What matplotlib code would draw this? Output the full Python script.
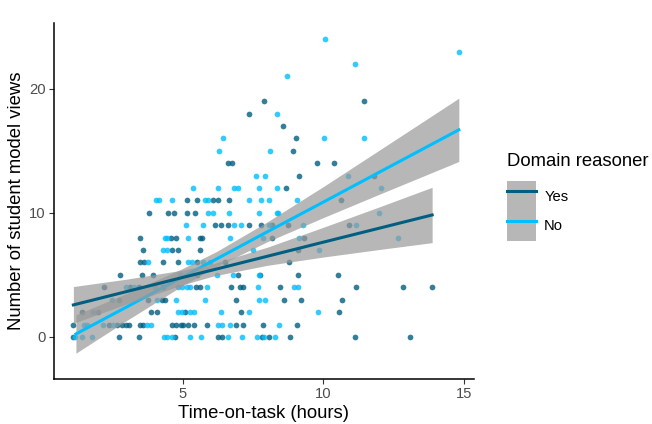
import numpy as np
import matplotlib
matplotlib.use("Agg")
import matplotlib.pyplot as plt
from matplotlib.lines import Line2D
from matplotlib.patches import Patch

plt.rcParams['font.family'] = ['Liberation Sans', 'DejaVu Sans']

# Data: hours on task per number of views, by group
yes_pts = {
    19: [7.89, 11.43],
    18: [7.35],
    17: [8.56],
    16: [9.02],
    15: [8.90],
    14: [6.61, 6.75, 9.76, 10.37],
    13: [9.12, 11.80],
    12: [8.67],
    11: [5.13, 5.49, 6.08, 6.26, 6.64, 10.63],
    10: [3.79, 4.46, 4.68, 5.13, 5.43],
    9: [6.13, 6.34, 6.59, 7.36, 7.79, 8.16, 8.73, 10.92],
    8: [3.47, 4.57, 4.75, 5.60, 5.69, 8.16, 9.31],
    7: [3.59, 4.60, 4.83, 5.60, 9.10],
    6: [3.47, 3.62, 4.28, 4.83, 5.49, 6.5, 8.76],
    5: [2.77, 3.55, 3.95, 5.5, 6.95, 7.74, 9.08, 10.51],
    4: [2.20, 3.11, 3.44, 4.3, 5.45, 5.60, 6.71, 7.03, 7.12, 8.45, 11.16, 12.84, 13.87],
    3: [2.73, 3.77, 4.24, 4.36, 6.88, 8.58, 9.19, 10.67],
    2: [1.40, 1.96, 3.85, 4.06, 5.07, 7.06, 10.56],
    1: [1.10, 2.38, 2.66, 2.82, 2.96, 3.08, 3.47, 3.59, 4.60, 4.74, 4.93, 5.01,
        5.19, 5.39, 5.86, 6.88, 7.15, 7.84, 9.06],
    0: [1.07, 2.73, 3.44, 4.72, 6.26, 6.38, 7.80, 8.05, 8.81, 11.11, 13.07],
}

no_pts = {
    24: [10.04],
    23: [14.82],
    22: [11.13],
    21: [8.70],
    18: [8.36],
    16: [6.41, 10.01, 11.44],
    15: [6.28, 8.10],
    13: [7.59, 7.93, 10.86],
    12: [5.35, 6.26, 6.80, 6.97, 7.70, 8.36, 12.04],
    11: [4.04, 4.16, 4.62, 5.78, 5.90, 7.35, 7.79, 8.06, 9.05],
    10: [5.88, 6.06, 6.64, 7.72, 8.33, 8.37, 11.99],
    9: [5.11, 5.72, 6.83, 7.07, 8.06, 9.28, 11.16],
    8: [4.36, 4.44, 5.17, 6.67, 7.85, 9.12, 12.66],
    7: [4.28, 4.42, 7.48, 9.85],
    6: [3.77, 5.19, 5.33, 5.72, 5.97],
    5: [4.9, 6.2, 6.78, 7.70],
    4: [2.97, 3.26, 4.0, 4.83, 4.98, 5.15, 5.25, 5.84, 7.68, 8.96, 9.08],
    3: [2.46, 4.06, 4.77, 5.78, 7.70, 7.93],
    2: [1.81, 4.83, 4.95, 5.25, 5.39, 6.35, 7.36, 9.79],
    1: [1.48, 1.57, 2.16, 2.52, 3.73, 3.85, 6.26, 6.38, 6.67, 8.41],
    0: [1.16, 1.42, 1.77, 4.32, 4.44, 4.60, 5.25, 5.64, 6.61, 7.09, 7.64, 7.90, 8.28],
}

# Fitted lines with 95% band
fit_x_yes = [1.10, 3, 5, 6.1, 8, 10, 12, 13.87]
fit_yes = [2.58, 3.66, 4.80, 5.42, 6.50, 7.64, 8.77, 9.83]
lo_yes = [1.10, 2.66, 4.21, 4.92, 5.77, 6.44, 7.05, 7.60]
hi_yes = [4.06, 4.66, 5.39, 5.92, 7.23, 8.84, 10.49, 12.06]

fit_x_no = [1.19, 3, 5, 6.2, 8, 10, 12, 14.82]
fit_no = [0.24, 2.42, 4.84, 6.29, 8.47, 10.87, 13.29, 16.69]
lo_no = [-1.31, 1.33, 4.15, 5.69, 7.67, 9.62, 11.51, 14.14]
hi_no = [1.79, 3.51, 5.53, 6.89, 9.27, 12.12, 15.07, 19.24]

col_yes = "#005F80"
col_no = "#00BFFF"
band = "#999999"


def flatten(pts):
    xs, ys = [], []
    for v, hrs in pts.items():
        xs += hrs
        ys += [v] * len(hrs)
    return np.array(xs), np.array(ys)


yx, yy = flatten(yes_pts)
nx, ny = flatten(no_pts)

fig = plt.figure(figsize=(6.52, 4.24), dpi=100)
ax = fig.add_axes([54 / 652, 1 - 379 / 424, 420 / 652, (379 - 23) / 424])

ax.scatter(yx, yy, s=17, color=col_yes, alpha=0.8, linewidths=0, zorder=2)
ax.scatter(nx, ny, s=17, color=col_no, alpha=0.8, linewidths=0, zorder=2)

ax.fill_between(fit_x_no, lo_no, hi_no, color=band, alpha=0.7, linewidth=0, zorder=3)
ax.plot(fit_x_no, fit_no, color=col_no, lw=2.2, zorder=4)
ax.fill_between(fit_x_yes, lo_yes, hi_yes, color=band, alpha=0.7, linewidth=0, zorder=5)
ax.plot(fit_x_yes, fit_yes, color=col_yes, lw=2.2, zorder=6)

ax.set_xlim(0.41, 15.36)
ax.set_ylim(-3.39, 25.3)
ax.set_xticks([5, 10, 15])
ax.set_yticks([0, 10, 20])

for s in ["top", "right"]:
    ax.spines[s].set_visible(False)
for s in ["left", "bottom"]:
    ax.spines[s].set_linewidth(1.1)
    ax.spines[s].set_color("black")
ax.tick_params(length=3.5, width=0.8, color="#333333", labelcolor="#4D4D4D",
               labelsize=10.6, pad=2.5)

ax.set_xlabel("Time-on-task (hours)", fontsize=13.3, labelpad=3)
ax.set_ylabel("Number of student model views", fontsize=13.3, labelpad=3)

handles = [
    (Patch(facecolor=band, alpha=0.7, edgecolor="none"), Line2D([], [], color=col_yes, lw=2.2)),
    (Patch(facecolor=band, alpha=0.7, edgecolor="none"), Line2D([], [], color=col_no, lw=2.2)),
]
leg = fig.legend(handles, ["Yes", "No"], loc="upper left",
                 bbox_to_anchor=(500 / 652, 1 - 146 / 424),
                 frameon=False, fontsize=10.6, title="Domain reasoner",
                 title_fontsize=13.3, handlelength=1.95, handleheight=2.71,
                 labelspacing=0, handletextpad=0.55, borderpad=0,
                 alignment="left")
leg._legend_box.sep = 8

fig.savefig("out.png", dpi=100)
